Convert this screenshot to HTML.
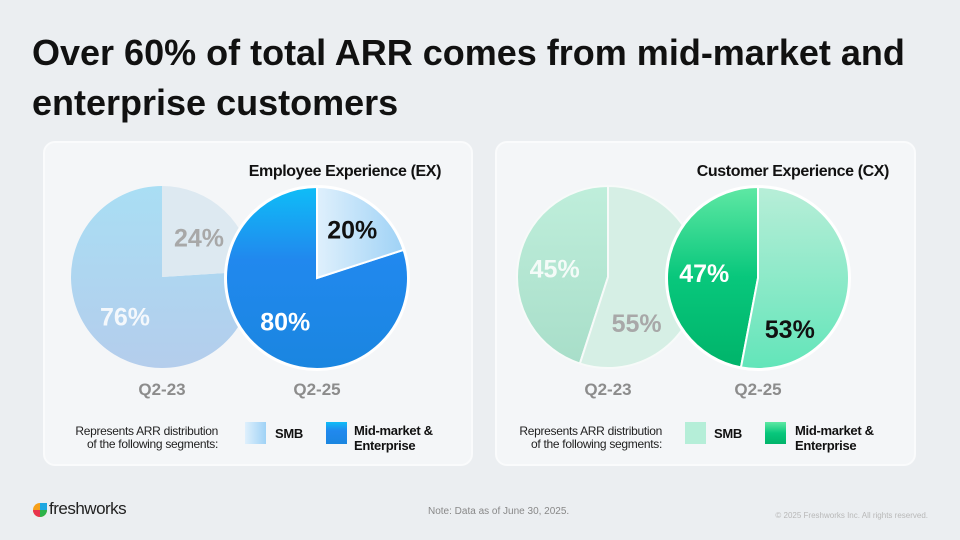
<!DOCTYPE html>
<html><head><meta charset="utf-8"><style>
body{margin:0;width:960px;height:540px;background:#ebeef1;font-family:"Liberation Sans",sans-serif;overflow:hidden;position:relative}
.t{position:absolute;left:32px;top:28px;font-size:36px;font-weight:bold;color:#111;line-height:50px;letter-spacing:0px}
.card{position:absolute;top:141px;height:325px;background:#f4f6f8;border:2px solid #fafbfc;border-radius:12px;box-sizing:border-box}
svg{position:absolute;left:0;top:0}
</style></head><body>
<div class="t">Over 60% of total ARR comes from mid-market and<br>enterprise customers</div>
<div class="card" style="left:43px;width:430px"></div>
<div class="card" style="left:495px;width:421px"></div>
<svg id="s" width="960" height="540">
<defs>
<linearGradient id="gb1" x1="0" y1="0" x2="0" y2="1"><stop offset="0" stop-color="#a9def4"/><stop offset="1" stop-color="#b4cdec"/></linearGradient>
<linearGradient id="gb2" x1="0" y1="0" x2="0" y2="1"><stop offset="0" stop-color="#0fbdf7"/><stop offset="0.4" stop-color="#2188ee"/><stop offset="1" stop-color="#1a86e0"/></linearGradient>
<linearGradient id="gbs" x1="1" y1="0" x2="0" y2="0"><stop offset="0" stop-color="#9fd2f6"/><stop offset="1" stop-color="#dff0fc"/></linearGradient>
<linearGradient id="gg1" x1="0" y1="0" x2="0" y2="1"><stop offset="0" stop-color="#bfeedb"/><stop offset="1" stop-color="#a8dec9"/></linearGradient>
<linearGradient id="gg2" x1="0" y1="0" x2="0" y2="1"><stop offset="0" stop-color="#5fe8a4"/><stop offset="0.5" stop-color="#08c77c"/><stop offset="1" stop-color="#00b46a"/></linearGradient>
<linearGradient id="ggs" x1="0" y1="0" x2="0" y2="1"><stop offset="0" stop-color="#b8eed8"/><stop offset="1" stop-color="#62e5b9"/></linearGradient>
</defs>
<g font-weight="bold" font-family="Liberation Sans, sans-serif">
<text x="441" y="176" font-size="16" letter-spacing="-0.4" text-anchor="end" fill="#111">Employee Experience (EX)</text>
<text x="889" y="176" font-size="16" letter-spacing="-0.4" text-anchor="end" fill="#111">Customer Experience (CX)</text>
</g>
<g id="pies"></g>
<g font-family="Liberation Sans, sans-serif" font-size="12" letter-spacing="-0.3" fill="#222" text-anchor="end">
<text x="218" y="435">Represents ARR distribution</text>
<text x="218" y="448">of the following segments:</text>
<text x="662" y="435">Represents ARR distribution</text>
<text x="662" y="448">of the following segments:</text>
</g>
<g font-family="Liberation Sans, sans-serif" font-size="13" font-weight="bold" fill="#111" letter-spacing="-0.3">
<rect x="245" y="422" width="21" height="22" fill="url(#gbs)"/>
<text x="275" y="438">SMB</text>
<rect x="326" y="422" width="21" height="22" fill="url(#gb2)"/>
<text x="354" y="435">Mid-market &amp;</text><text x="354" y="450">Enterprise</text>
<rect x="685" y="422" width="21" height="22" fill="#b5eed8"/>
<text x="714" y="438">SMB</text>
<rect x="765" y="422" width="21" height="22" fill="url(#gg2)"/>
<text x="795" y="435">Mid-market &amp;</text><text x="795" y="450">Enterprise</text>
</g>
<g>
<circle cx="40" cy="510" r="7" fill="#f6a01a"/><path d="M33 510 A7 7 0 0 0 40 517 L40 510Z" fill="#e8344d"/><path d="M40 503 L47 503 L47 510 A7 7 0 0 1 40 510Z" fill="#1ea7e1"/><path d="M40 510 L47 510 A7 7 0 0 1 40 517Z" fill="#2cb34a"/>
<text x="49" y="514" font-family="Liberation Sans, sans-serif" font-size="17" letter-spacing="-0.5" fill="#222">freshworks</text>
</g>
<text x="428" y="514" font-family="Liberation Sans, sans-serif" font-size="10" fill="#888">Note: Data as of June 30, 2025.</text>
<text x="928" y="518" text-anchor="end" font-family="Liberation Sans, sans-serif" font-size="8" fill="#b8b8b8">© 2025 Freshworks Inc. All rights reserved.</text>
</svg>
<script>
const periods=["Q2-23","Q2-25","Q2-23","Q2-25"];
const segments=["EX","EX","CX","CX"];
const smbValues=[24,20,55,53];
const midValues=[76,80,45,47];
const cfg=[
{cx:162,cy:277,r:91,smb:"#dde9f1",mid:"url(#gb1)",smbT:"#a8a8a8",midT:"#f4f8fc",stroke:"none"},
{cx:317,cy:278,r:91,smb:"url(#gbs)",mid:"url(#gb2)",smbT:"#111",midT:"#fff",stroke:"#fff"},
{cx:608,cy:277,r:91,smb:"#d6efe5",mid:"url(#gg1)",smbT:"#a8a8a8",midT:"#f4fbf8",stroke:"#f7faf9"},
{cx:758,cy:278,r:91,smb:"url(#ggs)",mid:"url(#gg2)",smbT:"#111",midT:"#fff",stroke:"#fff"}];
const NS="http://www.w3.org/2000/svg",g=document.getElementById('pies');
function pt(c,a,r){const t=a*Math.PI/180;return[c.cx+r*Math.sin(t),c.cy-r*Math.cos(t)];}
function arc(c,a0,a1){const p0=pt(c,a0,c.r),p1=pt(c,a1,c.r),lg=(a1-a0)>180?1:0;return `M${c.cx},${c.cy}L${p0[0]},${p0[1]}A${c.r},${c.r} 0 ${lg} 1 ${p1[0]},${p1[1]}Z`;}
function el(tag,at){const e=document.createElementNS(NS,tag);for(const k in at)e.setAttribute(k,at[k]);g.appendChild(e);return e;}
for(let i=0;i<4;i++){const c=cfg[i],tot=smbValues[i]+midValues[i],aS=smbValues[i]/tot*360;
if(i%2==1)el('circle',{cx:c.cx,cy:c.cy,r:c.r+2,fill:'#fff'});
const m=el('path',{d:arc(c,aS,360),fill:c.mid,stroke:c.stroke,'stroke-width':2});


const s=el('path',{d:arc(c,0,aS),fill:c.smb,stroke:c.stroke,'stroke-width':2});


let sa=aS/2;if(smbValues[i]>40)sa=148;const ma=aS+(360-aS)/2;
const ps=pt(c,sa,i%2?60:54),pm=pt(c,ma,54);
const ts=el('text',{x:ps[0],y:ps[1]+9,'text-anchor':'middle','font-size':25,'font-weight':'bold','font-family':'Liberation Sans, sans-serif',fill:c.smbT});ts.textContent=smbValues[i]+'%';


const tm=el('text',{x:pm[0],y:pm[1]+9,'text-anchor':'middle','font-size':25,'font-weight':'bold','font-family':'Liberation Sans, sans-serif',fill:c.midT});tm.textContent=midValues[i]+'%';


const tp=el('text',{x:c.cx,y:395,'text-anchor':'middle','font-size':17,'font-weight':'bold','font-family':'Liberation Sans, sans-serif',fill:'#8c8c8c'});tp.textContent=periods[i];


}
</script>
</body></html>
